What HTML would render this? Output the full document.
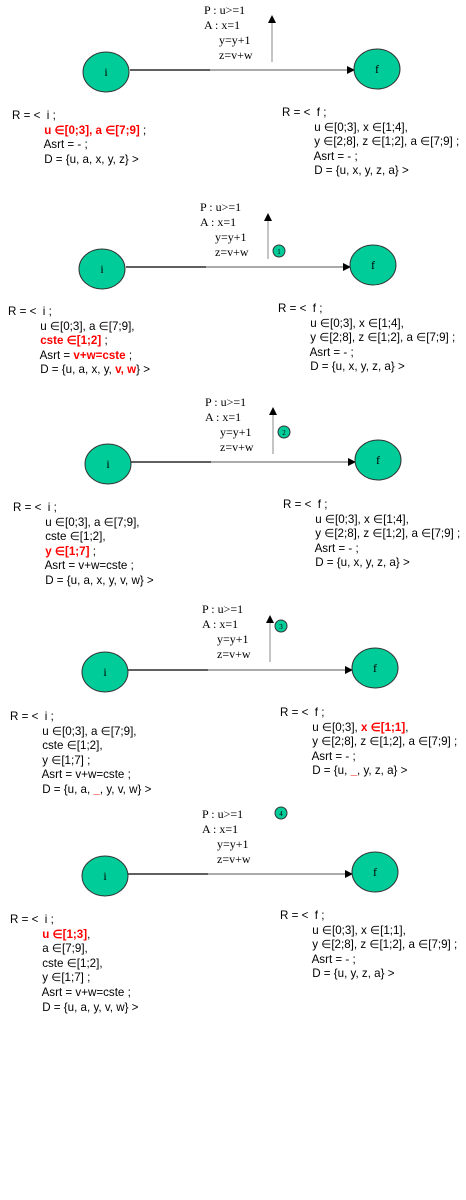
<!DOCTYPE html>
<html><head><meta charset="utf-8">
<style>
html,body{margin:0;padding:0;background:#fff;}
body{width:466px;height:1200px;position:relative;overflow:hidden;}
svg{position:absolute;left:0;top:0;}
.s{position:absolute;font-family:"Liberation Serif",serif;font-size:12px;line-height:15px;white-space:pre;color:#000;}
.t{position:absolute;font-family:"Liberation Sans",sans-serif;font-size:11.6px;line-height:14.6px;white-space:pre;color:#000;}
.r{color:#ff0000;font-weight:bold;}
</style></head>
<body>
<svg width="466" height="1200">
<defs>
<marker id="ah" markerWidth="8" markerHeight="8" refX="7" refY="4" orient="auto" markerUnits="userSpaceOnUse"><path d="M0,0 L8,4 L0,8 z" fill="#000"/></marker>
</defs>
<g>
<line x1="130" y1="70" x2="210" y2="70" stroke="#000" stroke-width="1.3"/>
<line x1="210" y1="70" x2="354" y2="70" stroke="#555" stroke-width="1" marker-end="url(#ah)"/>
<line x1="272" y1="62" x2="272" y2="16" stroke="#888" stroke-width="1" marker-end="url(#ah)"/>
<ellipse cx="106" cy="72" rx="23" ry="20" fill="#00cc99" stroke="#333"/>
<ellipse cx="377" cy="69" rx="23" ry="20" fill="#00cc99" stroke="#333"/>
</g>
<g>
<line x1="126" y1="267" x2="206" y2="267" stroke="#000" stroke-width="1.3"/>
<line x1="206" y1="267" x2="350" y2="267" stroke="#555" stroke-width="1" marker-end="url(#ah)"/>
<line x1="268" y1="259" x2="268" y2="214" stroke="#888" stroke-width="1" marker-end="url(#ah)"/>
<ellipse cx="102" cy="269" rx="23" ry="20" fill="#00cc99" stroke="#333"/>
<ellipse cx="373" cy="265" rx="23" ry="20" fill="#00cc99" stroke="#333"/>
<circle cx="279" cy="251" r="6" fill="#00cc99" stroke="#333"/>
</g>
<g>
<line x1="131" y1="462" x2="211" y2="462" stroke="#000" stroke-width="1.3"/>
<line x1="211" y1="462" x2="355" y2="462" stroke="#555" stroke-width="1" marker-end="url(#ah)"/>
<line x1="273" y1="454" x2="273" y2="408" stroke="#888" stroke-width="1" marker-end="url(#ah)"/>
<ellipse cx="108" cy="464" rx="23" ry="20" fill="#00cc99" stroke="#333"/>
<ellipse cx="378" cy="460" rx="23" ry="20" fill="#00cc99" stroke="#333"/>
<circle cx="284" cy="432" r="6" fill="#00cc99" stroke="#333"/>
</g>
<g>
<line x1="128" y1="670" x2="208" y2="670" stroke="#000" stroke-width="1.3"/>
<line x1="208" y1="670" x2="352" y2="670" stroke="#555" stroke-width="1" marker-end="url(#ah)"/>
<line x1="270" y1="662" x2="270" y2="616" stroke="#888" stroke-width="1" marker-end="url(#ah)"/>
<ellipse cx="105" cy="672" rx="23" ry="20" fill="#00cc99" stroke="#333"/>
<ellipse cx="375" cy="668" rx="23" ry="20" fill="#00cc99" stroke="#333"/>
<circle cx="281" cy="626" r="6" fill="#00cc99" stroke="#333"/>
</g>
<g>
<line x1="128" y1="874" x2="208" y2="874" stroke="#000" stroke-width="1.3"/>
<line x1="208" y1="874" x2="352" y2="874" stroke="#555" stroke-width="1" marker-end="url(#ah)"/>
<ellipse cx="105" cy="876" rx="23" ry="20" fill="#00cc99" stroke="#333"/>
<ellipse cx="375" cy="872" rx="23" ry="20" fill="#00cc99" stroke="#333"/>
<circle cx="281" cy="813" r="6" fill="#00cc99" stroke="#333"/>
</g>
<g font-family="Liberation Serif,serif" font-size="12" text-anchor="middle">
<text x="106" y="76">i</text><text x="377" y="73">f</text>
<text x="102" y="273">i</text><text x="373" y="269">f</text>
<text x="108" y="468">i</text><text x="378" y="464">f</text>
<text x="105" y="676">i</text><text x="375" y="672">f</text>
<text x="105" y="880">i</text><text x="375" y="876">f</text>
</g>
<g font-family="Liberation Serif,serif" font-size="7" text-anchor="middle">
<text x="279" y="254">1</text><text x="284" y="435">2</text><text x="281" y="629">3</text><text x="281" y="816">4</text>
</g>
</svg>

<div class="s" style="left:204px;top:3px">P : u&gt;=1
A : x=1
     y=y+1
     z=v+w</div>
<div class="t" style="left:12px;top:109px">R = &lt;  i ;
          <span class="r">u ∈[0;3], a ∈[7;9]</span> ;
          Asrt = - ;
          D = {u, a, x, y, z} &gt;</div>
<div class="t" style="left:282px;top:106px">R = &lt;  f ;
          u ∈[0;3], x ∈[1;4],
          y ∈[2;8], z ∈[1;2], a ∈[7;9] ;
          Asrt = - ;
          D = {u, x, y, z, a} &gt;</div>

<div class="s" style="left:200px;top:200px">P : u&gt;=1
A : x=1
     y=y+1
     z=v+w</div>
<div class="t" style="left:8px;top:305px">R = &lt;  i ;
          u ∈[0;3], a ∈[7;9],
          <span class="r">cste ∈[1;2]</span> ;
          Asrt = <span class="r">v+w=cste</span> ;
          D = {u, a, x, y, <span class="r">v, w</span>} &gt;</div>
<div class="t" style="left:278px;top:302px">R = &lt;  f ;
          u ∈[0;3], x ∈[1;4],
          y ∈[2;8], z ∈[1;2], a ∈[7;9] ;
          Asrt = - ;
          D = {u, x, y, z, a} &gt;</div>

<div class="s" style="left:205px;top:395px">P : u&gt;=1
A : x=1
     y=y+1
     z=v+w</div>
<div class="t" style="left:13px;top:501px">R = &lt;  i ;
          u ∈[0;3], a ∈[7;9],
          cste ∈[1;2],
          <span class="r">y ∈[1;7]</span> ;
          Asrt = v+w=cste ;
          D = {u, a, x, y, v, w} &gt;</div>
<div class="t" style="left:283px;top:498px">R = &lt;  f ;
          u ∈[0;3], x ∈[1;4],
          y ∈[2;8], z ∈[1;2], a ∈[7;9] ;
          Asrt = - ;
          D = {u, x, y, z, a} &gt;</div>

<div class="s" style="left:202px;top:602px">P : u&gt;=1
A : x=1
     y=y+1
     z=v+w</div>
<div class="t" style="left:10px;top:710px">R = &lt;  i ;
          u ∈[0;3], a ∈[7;9],
          cste ∈[1;2],
          y ∈[1;7] ;
          Asrt = v+w=cste ;
          D = {u, a, <span class="r">_</span>, y, v, w} &gt;</div>
<div class="t" style="left:280px;top:706px">R = &lt;  f ;
          u ∈[0;3], <span class="r">x ∈[1;1]</span>,
          y ∈[2;8], z ∈[1;2], a ∈[7;9] ;
          Asrt = - ;
          D = {u, <span class="r">_</span>, y, z, a} &gt;</div>

<div class="s" style="left:202px;top:807px">P : u&gt;=1
A : x=1
     y=y+1
     z=v+w</div>
<div class="t" style="left:10px;top:913px">R = &lt;  i ;
          <span class="r">u ∈[1;3]</span>,
          a ∈[7;9],
          cste ∈[1;2],
          y ∈[1;7] ;
          Asrt = v+w=cste ;
          D = {u, a, y, v, w} &gt;</div>
<div class="t" style="left:280px;top:909px">R = &lt;  f ;
          u ∈[0;3], x ∈[1;1],
          y ∈[2;8], z ∈[1;2], a ∈[7;9] ;
          Asrt = - ;
          D = {u, y, z, a} &gt;</div>
</body></html>
